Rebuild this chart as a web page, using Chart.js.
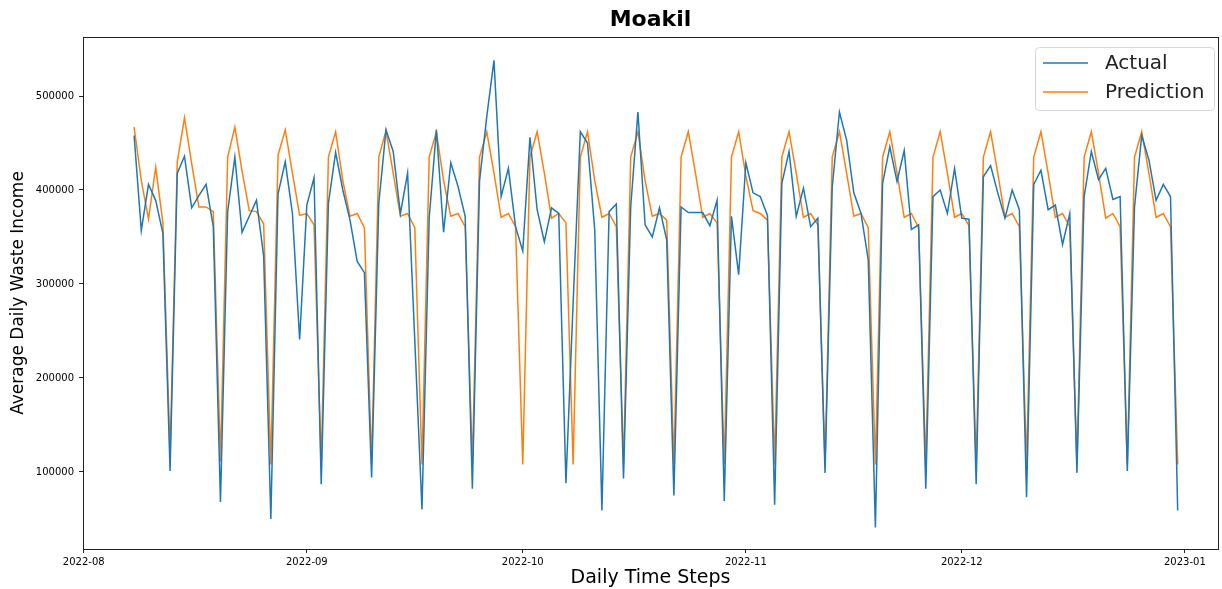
<!DOCTYPE html>
<html>
<head>
<meta charset="utf-8">
<script src="https://cdn.jsdelivr.net/npm/chart.js@4.4.0/dist/chart.umd.min.js"></script>
<style>
  html, body { margin: 0; padding: 0; background: #fff; }
  #wrap { width: 1222px; height: 589px; }
</style>
</head>
<body>
<div id="wrap"><canvas id="wasteChart" width="1222" height="589"></canvas></div>
<script>
// daily series, first day 2022-08-08, values in thousands
const startDate = "2022-08-08";

const actual = [
  458, 357, 406, 389, 354, 101, 418, 436, 381, 394, 406, 361, 68, 377,
  435, 355, 372, 389, 330, 50, 396, 430, 375, 241, 384, 413, 87, 386,
  440, 400, 368, 324, 312, 94, 386, 464, 441, 375, 418, 240, 60, 370,
  464, 355, 429, 404, 372, 82, 410, 478, 538, 393, 423, 361, 335, 456,
  379, 345, 381, 375, 88, 280, 462, 450, 358, 59, 377, 385, 93, 382,
  483, 363, 350, 381, 347, 75, 382, 376, 376, 376, 362, 389, 69, 372,
  310, 429, 397, 393, 373, 65, 407, 441, 372, 402, 361, 370, 99, 403,
  483, 453, 397, 375, 326, 41, 407, 446, 409, 442, 358, 363, 82, 393,
  400, 375, 423, 370, 369, 87, 414, 426, 397, 370, 400, 379, 73, 406,
  421, 379, 384, 342, 375, 99, 393, 441, 411, 423, 390, 393, 101, 382,
  458, 432, 389, 406, 393, 59
];

const prediction = [
  467, 410, 369, 424, 365, 121, 430, 477, 428, 382, 382, 377, 111, 435,
  467, 420, 378, 377, 364, 108, 437, 464, 418, 373, 375, 363, 108, 435,
  462, 410, 372, 375, 360, 108, 435, 463, 418, 372, 375, 360, 108, 435,
  462, 410, 372, 375, 361, 108, 435, 462, 418, 371, 375, 361, 108, 435,
  462, 418, 370, 375, 365, 108, 435, 462, 410, 371, 375, 361, 108, 435,
  462, 410, 372, 375, 368, 108, 435, 462, 418, 371, 375, 365, 108, 435,
  462, 415, 378, 375, 368, 108, 435, 462, 418, 371, 375, 363, 108, 435,
  462, 418, 372, 375, 360, 108, 435, 462, 418, 371, 375, 360, 108, 435,
  462, 418, 371, 375, 362, 108, 435, 462, 418, 371, 375, 361, 108, 435,
  462, 418, 371, 375, 361, 108, 435, 462, 418, 370, 375, 361, 108, 435,
  462, 418, 371, 375, 361, 108
];

const monthTicks = ["2022-08", "2022-09", "2022-10", "2022-11", "2022-12", "2023-01"];
const yTicks = [100000, 200000, 300000, 400000, 500000];

const BLUE = "#1f77b4";
const ORANGE = "#ff7f0e";
const TITLE = "Moakil";

const start = Date.parse(startDate);
const dayOf = s => Math.round((Date.parse(s) - start) / 86400000);

Chart.defaults.font.family = "'DejaVu Sans', sans-serif";
Chart.defaults.color = "#000";

// box round the plot, title over the plot, legend in the upper right corner
const framePlugin = {
  id: "frame",
  afterDraw(chart) {
    const { ctx, chartArea: a } = chart;
    ctx.save();
    ctx.strokeStyle = "#222";
    ctx.lineWidth = 1;
    ctx.strokeRect(Math.round(a.left) + 0.5, Math.round(a.top) + 0.5,
      Math.round(a.right - a.left), Math.round(a.bottom - a.top));

    ctx.fillStyle = "#000";
    ctx.font = "bold 22px 'DejaVu Sans'";
    ctx.textAlign = "center";
    ctx.textBaseline = "middle";
    ctx.fillText(TITLE, (a.left + a.right) / 2, 20);
    ctx.textAlign = "left";

    const w = 179, h = 63;
    const x = a.right - w - 4, y = a.top + 10;
    ctx.beginPath();
    ctx.roundRect(x + 0.5, y + 0.5, w, h, 4);
    ctx.fillStyle = "rgba(255,255,255,0.85)";
    ctx.fill();
    ctx.strokeStyle = "#d6d6d6";
    ctx.stroke();

    ctx.font = "20px 'DejaVu Sans'";
    chart.data.datasets.forEach((ds, i) => {
      const ly = y + 16 + i * 29;
      ctx.strokeStyle = ds.borderColor;
      ctx.lineWidth = 1.5;
      ctx.beginPath();
      ctx.moveTo(x + 8, ly);
      ctx.lineTo(x + 53, ly);
      ctx.stroke();
      ctx.fillStyle = "#222";
      ctx.fillText(ds.label, x + 70, ly + 1);
    });
    ctx.restore();
  }
};

const toPoints = arr => arr.map((v, i) => ({ x: i, y: v * 1000 }));

new Chart(document.getElementById("wasteChart"), {
  type: "line",
  data: {
    datasets: [
      { label: "Actual", data: toPoints(actual), borderColor: BLUE, borderWidth: 1.5, pointRadius: 0, tension: 0 },
      { label: "Prediction", data: toPoints(prediction), borderColor: ORANGE, borderWidth: 1.5, pointRadius: 0, tension: 0 }
    ]
  },
  options: {
    responsive: false,
    devicePixelRatio: 1,
    animation: false,
    layout: { padding: { left: 0, right: 4, top: 37, bottom: 0 } },
    plugins: {
      legend: { display: false },
      tooltip: { enabled: false },
      title: { display: false }
    },
    scales: {
      x: {
        type: "linear",
        min: -7.1,
        max: 150.6,
        afterBuildTicks: s => { s.ticks = monthTicks.map(m => ({ value: dayOf(m) })); },
        afterFit: s => { s.height = 40; },
        ticks: {
          autoSkip: false,
          maxRotation: 0,
          padding: 3,
          font: { size: 10 },
          callback: (v, i) => monthTicks[i]
        },
        grid: { drawOnChartArea: false, drawTicks: true, tickLength: 4, color: "#222" },
        border: { display: false },
        title: {
          display: true,
          text: "Daily Time Steps",
          font: { size: 19 },
          padding: { top: 0, bottom: 0 }
        }
      },
      y: {
        min: 18000,
        max: 562800,
        afterBuildTicks: s => { s.ticks = yTicks.map(v => ({ value: v })); },
        afterFit: s => { s.width = 83; },
        ticks: {
          padding: 5,
          font: { size: 10 },
          callback: v => String(v)
        },
        grid: { drawOnChartArea: false, drawTicks: true, tickLength: 4, color: "#222" },
        border: { display: false },
        title: {
          display: true,
          text: "Average Daily Waste Income",
          font: { size: 17 },
          padding: { top: 8, bottom: 0 }
        }
      }
    }
  },
  plugins: [framePlugin]
});
</script>
</body>
</html>
